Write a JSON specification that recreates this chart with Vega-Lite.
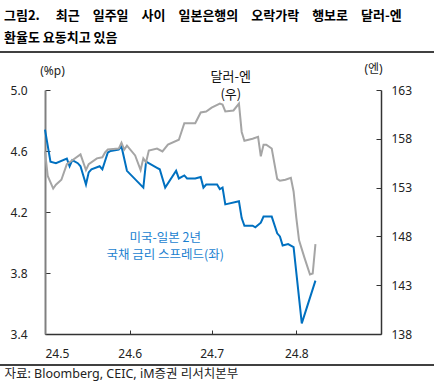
{
  "$schema": "https://vega.github.io/schema/vega-lite/v6.json",
  "width": 336,
  "height": 244,
  "autosize": {"type": "none"},
  "padding": {"left": 45, "top": 90, "right": 53, "bottom": 51},
  "background": "white",
  "config": {
    "view": {"stroke": null},
    "font": "Noto Sans CJK KR",
    "axis": {"grid": false, "labelFont": "Noto Sans", "labelFontSize": 12, "labelColor": "#222222", "titleFont": "Noto Sans, Noto Sans CJK KR", "titleFontWeight": "normal", "titleColor": "#222222", "titleFontSize": 12}
  },
  "title": {
    "text": "그림2.　 최근　일주일　사이　일본은행의　오락가락　행보로　달러-엔",
    "subtitle": "　　　　환율도 요동치고 있음",
    "anchor": "start",
    "frame": "group",
    "dx": -41,
    "offset": 6,
    "font": "Noto Sans CJK KR",
    "subtitleFont": "Noto Sans CJK KR",
    "fontSize": 13,
    "subtitleFontSize": 13,
    "fontWeight": "bold",
    "subtitleFontWeight": "bold",
    "color": "#000000",
    "subtitleColor": "#000000",
    "subtitlePadding": 9
  },
  "datasets": {
    "spread": [
      {"date": "2024-05-01", "spread": 4.74},
      {"date": "2024-05-03", "spread": 4.53},
      {"date": "2024-05-05", "spread": 4.52},
      {"date": "2024-05-09", "spread": 4.55},
      {"date": "2024-05-10", "spread": 4.50},
      {"date": "2024-05-11", "spread": 4.54},
      {"date": "2024-05-13", "spread": 4.52},
      {"date": "2024-05-14", "spread": 4.50},
      {"date": "2024-05-16", "spread": 4.38},
      {"date": "2024-05-17", "spread": 4.46},
      {"date": "2024-05-18", "spread": 4.48},
      {"date": "2024-05-21", "spread": 4.50},
      {"date": "2024-05-22", "spread": 4.48},
      {"date": "2024-05-24", "spread": 4.59},
      {"date": "2024-05-25", "spread": 4.60},
      {"date": "2024-05-28", "spread": 4.61},
      {"date": "2024-05-29", "spread": 4.63},
      {"date": "2024-05-31", "spread": 4.47},
      {"date": "2024-06-06", "spread": 4.36},
      {"date": "2024-06-07", "spread": 4.53},
      {"date": "2024-06-11", "spread": 4.49},
      {"date": "2024-06-12", "spread": 4.48},
      {"date": "2024-06-14", "spread": 4.36},
      {"date": "2024-06-18", "spread": 4.47},
      {"date": "2024-06-19", "spread": 4.42},
      {"date": "2024-06-21", "spread": 4.44},
      {"date": "2024-06-22", "spread": 4.42},
      {"date": "2024-06-25", "spread": 4.42},
      {"date": "2024-06-27", "spread": 4.43},
      {"date": "2024-06-28", "spread": 4.36},
      {"date": "2024-06-29", "spread": 4.38},
      {"date": "2024-07-03", "spread": 4.38},
      {"date": "2024-07-04", "spread": 4.35},
      {"date": "2024-07-05", "spread": 4.36},
      {"date": "2024-07-06", "spread": 4.25},
      {"date": "2024-07-11", "spread": 4.27},
      {"date": "2024-07-12", "spread": 4.16},
      {"date": "2024-07-13", "spread": 4.11},
      {"date": "2024-07-16", "spread": 4.11},
      {"date": "2024-07-17", "spread": 4.10},
      {"date": "2024-07-19", "spread": 4.13},
      {"date": "2024-07-20", "spread": 4.17},
      {"date": "2024-07-23", "spread": 4.17},
      {"date": "2024-07-25", "spread": 4.06},
      {"date": "2024-07-26", "spread": 4.04},
      {"date": "2024-07-27", "spread": 3.98},
      {"date": "2024-07-29", "spread": 3.99},
      {"date": "2024-07-31", "spread": 3.97},
      {"date": "2024-08-03", "spread": 3.47},
      {"date": "2024-08-08", "spread": 3.75}
    ],
    "usdjpy": [
      {"date": "2024-05-01", "usdjpy": 156.7},
      {"date": "2024-05-02", "usdjpy": 154.2},
      {"date": "2024-05-04", "usdjpy": 152.9},
      {"date": "2024-05-05", "usdjpy": 153.3},
      {"date": "2024-05-07", "usdjpy": 153.8},
      {"date": "2024-05-09", "usdjpy": 155.4},
      {"date": "2024-05-10", "usdjpy": 155.6},
      {"date": "2024-05-11", "usdjpy": 155.8},
      {"date": "2024-05-14", "usdjpy": 156.4},
      {"date": "2024-05-16", "usdjpy": 154.8},
      {"date": "2024-05-17", "usdjpy": 155.4},
      {"date": "2024-05-20", "usdjpy": 156.0},
      {"date": "2024-05-22", "usdjpy": 156.1},
      {"date": "2024-05-23", "usdjpy": 156.6},
      {"date": "2024-05-24", "usdjpy": 156.9},
      {"date": "2024-05-28", "usdjpy": 157.0},
      {"date": "2024-05-29", "usdjpy": 157.6},
      {"date": "2024-05-30", "usdjpy": 156.9},
      {"date": "2024-05-31", "usdjpy": 157.3},
      {"date": "2024-06-03", "usdjpy": 156.3},
      {"date": "2024-06-05", "usdjpy": 154.8},
      {"date": "2024-06-06", "usdjpy": 156.0},
      {"date": "2024-06-07", "usdjpy": 155.6},
      {"date": "2024-06-08", "usdjpy": 156.8},
      {"date": "2024-06-11", "usdjpy": 157.0},
      {"date": "2024-06-13", "usdjpy": 156.7},
      {"date": "2024-06-15", "usdjpy": 157.4},
      {"date": "2024-06-19", "usdjpy": 157.9},
      {"date": "2024-06-21", "usdjpy": 159.6},
      {"date": "2024-06-25", "usdjpy": 159.6},
      {"date": "2024-06-27", "usdjpy": 160.7},
      {"date": "2024-06-29", "usdjpy": 160.8},
      {"date": "2024-07-01", "usdjpy": 161.2},
      {"date": "2024-07-04", "usdjpy": 161.6},
      {"date": "2024-07-05", "usdjpy": 161.5},
      {"date": "2024-07-06", "usdjpy": 160.8},
      {"date": "2024-07-09", "usdjpy": 160.9},
      {"date": "2024-07-11", "usdjpy": 161.6},
      {"date": "2024-07-12", "usdjpy": 158.7},
      {"date": "2024-07-13", "usdjpy": 157.8},
      {"date": "2024-07-16", "usdjpy": 158.0},
      {"date": "2024-07-18", "usdjpy": 158.2},
      {"date": "2024-07-19", "usdjpy": 156.2},
      {"date": "2024-07-20", "usdjpy": 157.4},
      {"date": "2024-07-21", "usdjpy": 157.4},
      {"date": "2024-07-23", "usdjpy": 157.0},
      {"date": "2024-07-25", "usdjpy": 153.9},
      {"date": "2024-07-26", "usdjpy": 153.7},
      {"date": "2024-07-28", "usdjpy": 153.8},
      {"date": "2024-07-30", "usdjpy": 154.0},
      {"date": "2024-07-31", "usdjpy": 152.6},
      {"date": "2024-08-01", "usdjpy": 149.9},
      {"date": "2024-08-02", "usdjpy": 147.6},
      {"date": "2024-08-04", "usdjpy": 145.8},
      {"date": "2024-08-06", "usdjpy": 144.1},
      {"date": "2024-08-07", "usdjpy": 144.2},
      {"date": "2024-08-08", "usdjpy": 147.2}
    ],
    "labelsBlack": [
      {"date": "2024-07-08", "value": 5.085, "label": "달러-엔"},
      {"date": "2024-07-08", "value": 4.967, "label": "(우)"}
    ],
    "labelsBlue": [
      {"date": "2024-06-14", "value": 4.031, "label": "미국-일본 2년"},
      {"date": "2024-06-14", "value": 3.916, "label": "국채 금리 스프레드(좌)"}
    ],
    "separators": [
      {"from": "2024-04-10", "to": "2024-09-25", "level": 5.249},
      {"from": "2024-04-10", "to": "2024-09-25", "level": 3.197}
    ]
  },
  "layer": [
    {
      "layer": [
        {
          "data": {"name": "spread"},
          "mark": {"type": "line", "color": "#0070C0", "strokeWidth": 2},
          "encoding": {
            "x": {
              "field": "date", "type": "temporal",
              "scale": {"type": "utc", "domain": [{"year": 2024, "month": 5, "date": 1, "utc": true}, {"year": 2024, "month": 9, "date": 1, "utc": true}]},
              "axis": {
                "values": [{"year": 2024, "month": 5, "date": 1, "utc": true}, {"year": 2024, "month": 6, "date": 1, "utc": true}, {"year": 2024, "month": 7, "date": 1, "utc": true}, {"year": 2024, "month": 8, "date": 1, "utc": true}],
                "labelExpr": "(utcyear(datum.value) % 100) + '.' + (utcmonth(datum.value) + 1)",
                "domainColor": "#333333", "domainWidth": 1.5, "tickColor": "#333333", "tickWidth": 1, "tickSize": -4,
                "labelPadding": 18, "labelBaseline": "top",
                "title": "자료: Bloomberg, CEIC, iM증권 리서치본부",
                "titleFontSize": 12.5,
                "titleAnchor": "start", "titleAlign": "left", "titleBaseline": "middle",
                "titleX": -41, "titleY": 39
              }
            },
            "y": {
              "field": "spread", "type": "quantitative",
              "scale": {"domain": [3.4, 5.0], "nice": false, "zero": false},
              "axis": {
                "orient": "left", "values": [3.4, 3.8, 4.2, 4.6, 5.0], "format": ".1f",
                "domainColor": "#808080", "domainWidth": 2, "tickColor": "#333333", "tickSize": -5,
                "labelPadding": 23,
                "title": "(%p)", "titleAngle": 0, "titleX": 7, "titleY": -20, "titleAlign": "center", "titleBaseline": "middle"
              }
            }
          }
        },
        {
          "data": {"name": "labelsBlack"},
          "mark": {"type": "text", "color": "#111111", "fontSize": 13, "font": "Noto Sans CJK KR", "align": "center", "baseline": "middle"},
          "encoding": {
            "x": {"field": "date", "type": "temporal"},
            "y": {"field": "value", "type": "quantitative"},
            "text": {"field": "label"}
          }
        },
        {
          "data": {"name": "labelsBlue"},
          "mark": {"type": "text", "color": "#1a7fd0", "fontSize": 12.5, "font": "Noto Sans CJK KR", "align": "center", "baseline": "middle"},
          "encoding": {
            "x": {"field": "date", "type": "temporal"},
            "y": {"field": "value", "type": "quantitative"},
            "text": {"field": "label"}
          }
        }
      ]
    },
    {
      "data": {"name": "usdjpy"},
      "mark": {"type": "line", "color": "#A5A5A5", "strokeWidth": 2},
      "encoding": {
        "x": {"field": "date", "type": "temporal"},
        "y": {
          "field": "usdjpy", "type": "quantitative",
          "scale": {"domain": [138, 163], "nice": false, "zero": false},
          "axis": {
            "orient": "right", "values": [138, 143, 148, 153, 158, 163],
            "domainColor": "#333333", "domainWidth": 1.5, "tickColor": "#333333", "tickSize": -5,
            "labelPadding": 15,
            "title": "(엔)", "titleAngle": 0, "titleX": -8, "titleY": -22, "titleAlign": "center", "titleBaseline": "middle"
          }
        }
      }
    },
    {
      "data": {"name": "separators", "format": {"parse": {"from": "date", "to": "date"}}},
      "mark": {"type": "rule", "color": "#000000", "strokeWidth": 1.5, "clip": false},
      "encoding": {
        "x": {"field": "from", "type": "temporal"},
        "x2": {"field": "to"},
        "y": {"field": "level", "type": "quantitative", "scale": {"domain": [3.4, 5.0], "nice": false, "zero": false}, "axis": null}
      }
    }
  ],
  "resolve": {"scale": {"y": "independent"}}
}
